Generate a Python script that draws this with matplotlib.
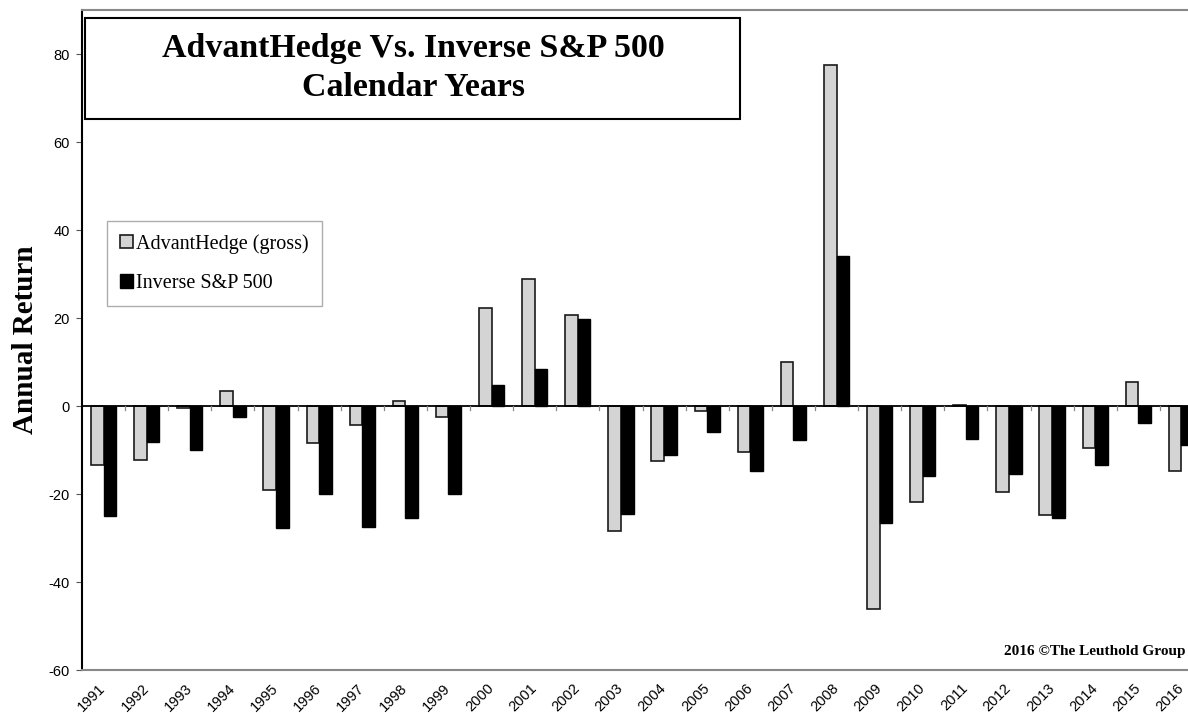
import matplotlib
matplotlib.use("Agg")
import matplotlib.pyplot as plt
import matplotlib.transforms as mtransforms
import numpy as np

years = [str(y) for y in range(1991, 2017)]
advanthedge = [-13.4, -12.3, -0.5, 3.4, -19.2, -8.4, -4.4, 1.1, -2.5, 22.3,
               28.9, 20.6, -28.4, -12.4, -1.1, -10.5, 10.1, 77.6, -46.1, -21.8,
               0.3, -19.5, -24.8, -9.5, 5.4, -14.8]
inverse_sp500 = [-25.0, -8.2, -10.0, -2.4, -27.8, -19.9, -27.6, -25.5, -20.1, 4.7,
                 8.5, 19.8, -24.6, -11.1, -5.9, -14.7, -7.7, 34.1, -26.7, -16.0,
                 -7.4, -15.4, -25.5, -13.3, -3.9, -8.9]
y_ticks = [-60, -40, -20, 0, 20, 40, 60, 80]

serif = ["Liberation Serif", "DejaVu Serif"]
sans = ["Liberation Sans", "DejaVu Sans"]

W, H = 1188, 713
fx = lambda px: px / W
fy = lambda py: 1 - py / H

fig = plt.figure(figsize=(W / 100, H / 100), dpi=100)
# plot area runs a little past the right edge of the figure
ax = fig.add_axes([fx(82), fy(670), 1121 / W, 660 / H])

x = np.arange(len(years))
w = 0.293
ax.bar(x - w / 2, advanthedge, width=w, color="#d4d4d4", edgecolor="#1a1a1a",
       linewidth=1.2, label="AdvantHedge (gross)", zorder=3)
ax.bar(x + w / 2, inverse_sp500, width=w, color="black", edgecolor="black",
       linewidth=1.0, label="Inverse S&P 500", zorder=3)

ax.set_xlim(-0.5, len(years) - 0.5)
ax.set_ylim(-60, 90)

# zero axis line with category separators
ax.axhline(0, color="black", linewidth=1.3, zorder=4)
for b in np.arange(0.5, len(years) - 0.5, 1.0):
    ax.plot([b, b], [0, -0.9], color="#888888", linewidth=0.9, zorder=4)

ax.set_yticks(y_ticks)
ax.set_yticklabels([str(t) for t in y_ticks], family=sans, fontsize=10.5)
ax.tick_params(axis="y", direction="out", length=4, width=0.8, color="#555555", pad=5)

ax.set_xticks(x)
ax.set_xticklabels(years, rotation=45, ha="right", rotation_mode="anchor",
                   family=sans, fontsize=10.5)
ax.tick_params(axis="x", length=0, pad=8)
shift = mtransforms.ScaledTranslation(-5 / 100, 0, fig.dpi_scale_trans)
for lbl in ax.get_xticklabels():
    lbl.set_transform(lbl.get_transform() + shift)

ax.spines["left"].set_color("black")
ax.spines["left"].set_linewidth(1.5)
ax.spines["top"].set_color("#888888")
ax.spines["top"].set_linewidth(1.5)
ax.spines["bottom"].set_color("#888888")
ax.spines["bottom"].set_linewidth(1.5)
ax.spines["right"].set_visible(False)

ax.set_ylabel("Annual Return", family=serif, fontsize=21, fontweight="bold", labelpad=7)

# title box
box = plt.Rectangle((fx(85), fy(119)), fx(740) - fx(85), fy(18) - fy(119),
                    transform=fig.transFigure, facecolor="white", edgecolor="black",
                    linewidth=1.5, zorder=5, clip_on=False)
ax.add_patch(box)
ax.text(fx(413), fy(68), "AdvantHedge Vs. Inverse S&P 500\nCalendar Years",
        transform=fig.transFigure, ha="center", va="center", family=serif,
        fontsize=24.4, fontweight="bold", linespacing=1.32, zorder=6)

leg = ax.legend(loc="upper left", bbox_to_anchor=(fx(107), fy(221)),
                bbox_transform=fig.transFigure, prop={"family": serif, "size": 14.5},
                frameon=True, fancybox=False, edgecolor="#999999", handlelength=0.65,
                handleheight=0.65, handletextpad=0.15, labelspacing=1.0,
                borderpad=0.65, borderaxespad=0)
leg.get_frame().set_linewidth(1.0)

ax.text(fx(1186), fy(652), "2016 \u00a9The Leuthold Group", transform=fig.transFigure,
        ha="right", va="center", family=serif, fontsize=11, fontweight="bold", zorder=6)

fig.savefig("out.png", dpi=100)
